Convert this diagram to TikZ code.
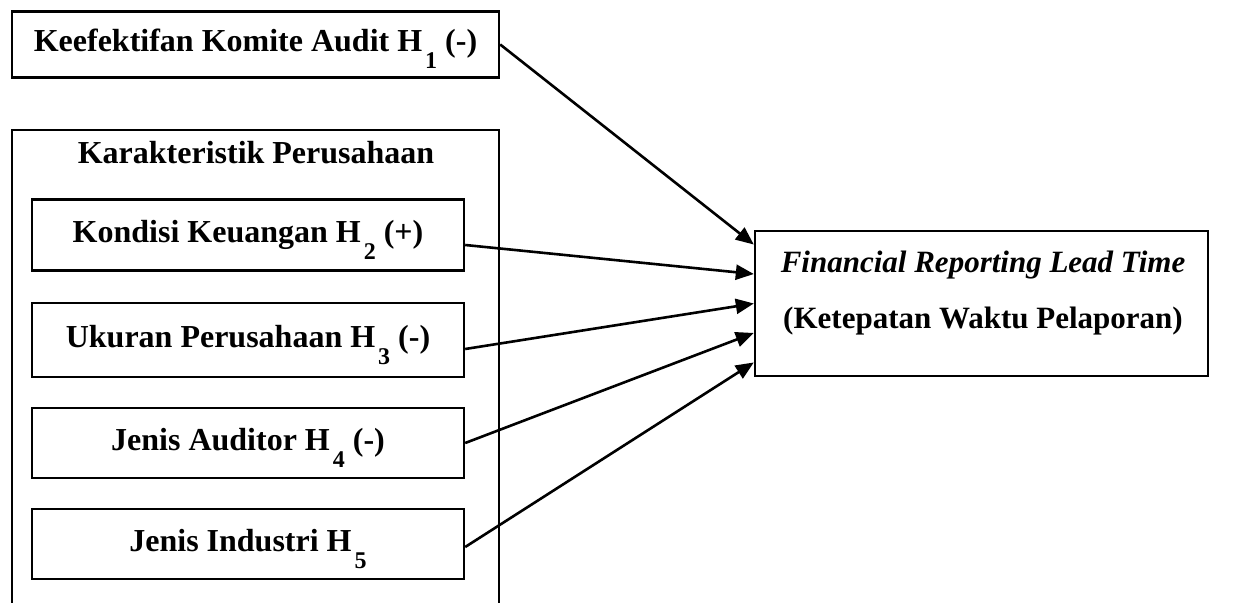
\documentclass[tikz,border=0pt]{standalone}
\usepackage{fontspec}
\setmainfont{Liberation Serif}
\usetikzlibrary{arrows.meta,calc}
\newcommand{\hsub}[1]{\hspace{1.5pt}\raisebox{-8.5pt}{\fontsize{12}{12}\selectfont #1}}
\begin{document}
\begin{tikzpicture}[x=0.5pt,y=-0.5pt,
  kotak/.style={draw,line width=1.2pt,inner sep=0pt,text height=10.5pt,text depth=3pt,font=\fontsize{16}{18}\selectfont\bfseries},
  kotakvar/.style={kotak,minimum width=216pt,minimum height=36pt},
  panah/.style={-{Triangle[length=9pt,width=7.5pt]},line width=1.3pt}]
  \useasboundingbox (0,0) rectangle (1241,603);
  \node[kotak,minimum width=243.5pt,minimum height=33pt] (kka) at (255.5,44.5) {Keefektifan Komite Audit H\hsub{1} (-)};
  \draw[line width=1.2pt] (12,610) -- (12,130) -- (499,130) -- (499,610);
  \node[font=\fontsize{16}{18}\selectfont\bfseries] (judul) at (256,153) {Karakteristik Perusahaan};
  \node[kotakvar,minimum height=35.5pt] (kk) at (248,235) {Kondisi Keuangan H\hsub{2} (+)};
  \node[kotakvar,minimum height=37pt] (up) at (248,340) {Ukuran Perusahaan H\hsub{3} (-)};
  \node[kotakvar,minimum height=35pt] (ja) at (248,443) {Jenis Auditor H\hsub{4} (-)};
  \node[kotakvar,minimum height=35pt] (ji) at (248,544) {Jenis Industri H\hsub{5}};
  \node[kotak,minimum width=226.5pt,minimum height=72.5pt] (frl) at (981.5,303.5) {};
  \node[align=center,font=\fontsize{15.5}{28}\selectfont\bfseries] (frlteks) at (983,293) {\textit{Financial Reporting Lead Time}\\(Ketepatan Waktu Pelaporan)};
  % titik masuk panah
  \coordinate (m1) at ($(frl.north west)!0.1!(frl.south west)$);
  \coordinate (m2) at ($(frl.north west)!0.3!(frl.south west)$);
  \coordinate (m3) at ($(frl.north west)!0.5!(frl.south west)$);
  \coordinate (m4) at ($(frl.north west)!0.7!(frl.south west)$);
  \coordinate (m5) at ($(frl.north west)!0.9!(frl.south west)$);
  \draw[panah] (kka.east) -- (m1);
  \draw[panah] ([yshift=-5pt]kk.east) -- (m2);
  \draw[panah] ([yshift=-4.5pt]up.east) -- (m3);
  \draw[panah] (ja.east) -- (m4);
  \draw[panah] ([yshift=-1.5pt]ji.east) -- (m5);
\end{tikzpicture}
\end{document}
